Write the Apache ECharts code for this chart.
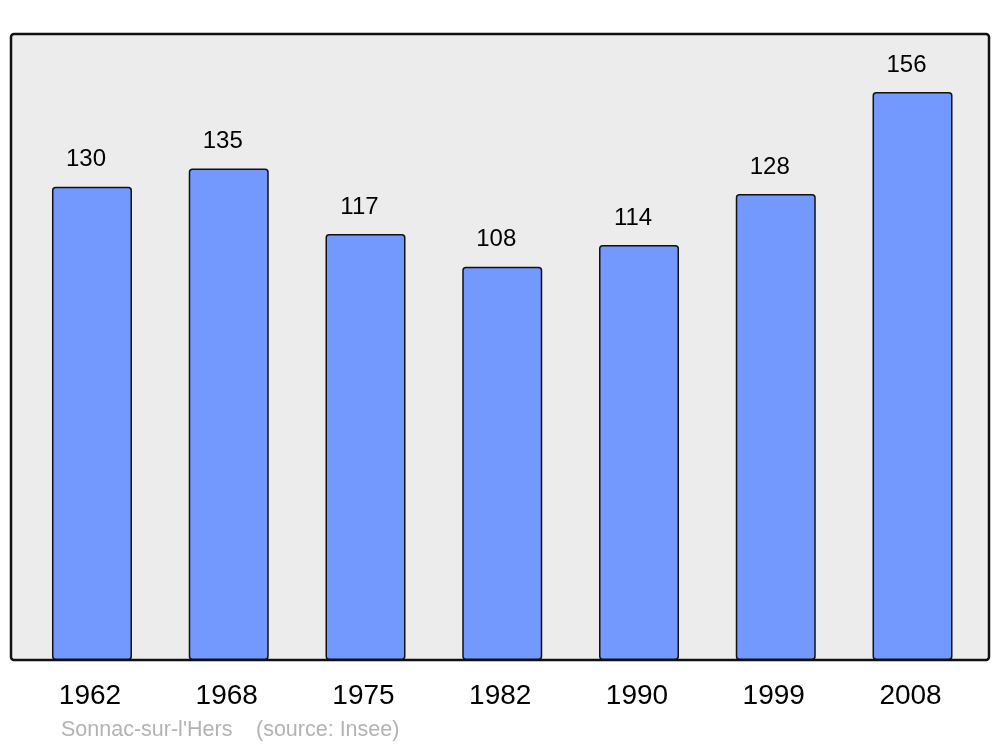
<!DOCTYPE html>
<html>
<head>
<meta charset="utf-8">
<script src="https://cdn.jsdelivr.net/npm/echarts@6/dist/echarts.min.js"></script>
<style>
  html, body { margin: 0; padding: 0; background: #fff; }
  #chart { width: 1000px; height: 747px; }
</style>
</head>
<body>
<div id="chart"></div>
<script>
  // population per census year
  let years = ['1962', '1968', '1975', '1982', '1990', '1999', '2008'];
  let population = [130, 135, 117, 108, 114, 128, 156];
  let placeName = "Sonnac-sur-l'Hers";
  let sourceText = '(source: Insee)';

  let chart = echarts.init(document.getElementById('chart'));

  let option = {
    animation: false,
    backgroundColor: '#ffffff',
    textStyle: { fontFamily: 'Liberation Sans, Arial, sans-serif' },
    graphic: [
      {
        type: 'rect',
        z: -10,
        shape: { x: 11, y: 34, width: 978, height: 626, r: 3 },
        style: { fill: '#ececec', stroke: '#111', lineWidth: 2.5 }
      },
      {
        type: 'text',
        left: 61,
        top: 719,
        style: { text: placeName, fill: '#b3b3b3', font: '21.5px Liberation Sans, Arial, sans-serif' }
      },
      {
        type: 'text',
        left: 256,
        top: 719,
        style: { text: sourceText, fill: '#b3b3b3', font: '21.5px Liberation Sans, Arial, sans-serif' }
      }
    ],
    grid: {
      left: 23.6,
      right: 19.1,
      top: 92,
      bottom: 87
    },
    xAxis: {
      type: 'category',
      data: years,
      axisLine: { show: false },
      axisTick: { show: false },
      axisLabel: {
        color: '#000',
        fontSize: 28,
        margin: 22,
        padding: [0, 4, 0, 0]
      }
    },
    yAxis: {
      type: 'value',
      min: 0,
      max: 156,
      show: false
    },
    series: [
      {
        type: 'bar',
        data: population,
        barWidth: 80,
        itemStyle: {
          color: '#7399ff',
          borderColor: '#111',
          borderWidth: 1.5,
          borderRadius: 3
        },
        label: {
          show: true,
          position: 'top',
          distance: 15,
          offset: [-6, 0],
          color: '#000',
          fontSize: 24
        }
      }
    ]
  };

  chart.setOption(option);
</script>
</body>
</html>
